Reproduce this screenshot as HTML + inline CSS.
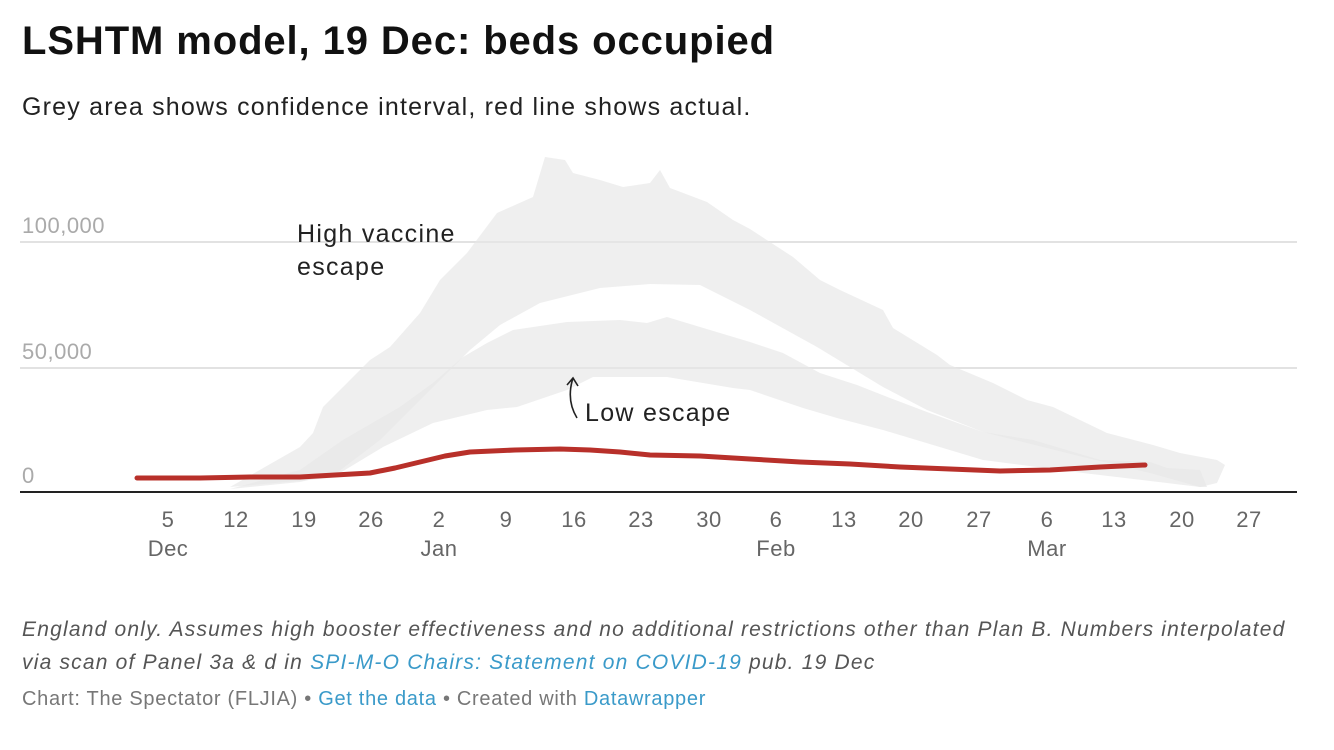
<!DOCTYPE html>
<html><head><meta charset="utf-8"><style>
body{margin:0;background:#fff;font-family:"Liberation Sans",sans-serif;width:1334px;height:750px;overflow:hidden;position:relative}
.t{position:absolute;left:22px;top:19px;font-size:40px;font-weight:bold;color:#111;letter-spacing:0.9px}
.s{position:absolute;left:22px;top:93px;font-size:25px;color:#222;letter-spacing:1.2px}
.n{position:absolute;left:22px;top:613px;font-size:21px;font-style:italic;color:#555;line-height:33px;letter-spacing:1.2px;white-space:nowrap}
.n a{color:#3a9ac9}
.c{position:absolute;left:22px;top:688px;font-size:20px;color:#777;letter-spacing:0.7px}
.c a{color:#3a9ac9}
</style></head><body>
<div class="t">LSHTM model, 19 Dec: beds occupied</div>
<div class="s">Grey area shows confidence interval, red line shows actual.</div>
<svg width="1334" height="750" style="position:absolute;left:0;top:0">
<line x1="20" y1="242" x2="1297" y2="242" stroke="#e2e2e2" stroke-width="2"/>
<line x1="20" y1="368" x2="1297" y2="368" stroke="#e2e2e2" stroke-width="2"/>
<g font-family="Liberation Sans" font-size="22" fill="#aaa" letter-spacing="0.5">
<text x="22" y="233">100,000</text><text x="22" y="359">50,000</text><text x="22" y="483">0</text></g>
<polygon fill="#e6e6e6" fill-opacity="0.65" points="230,487 300,447 313,433 323,407 343,387 370,360 390,347 420,313 440,280 467,253 497,213 533,197 545,157 565,160 573,173 600,180 623,187 650,183 660,170 670,188 707,202 733,220 750,229 793,257 820,280 840,290 883,310 893,328 937,355 950,365 993,383 1027,400 1053,407 1107,433 1153,445 1180,453 1217,460 1225,465 1217,483 1200,487 1150,473 1083,457 983,432 927,410 883,387 817,347 750,310 700,285 650,284 600,288 540,303 500,325 470,350 440,380 420,400 380,440 330,478"/>
<polygon fill="#e6e6e6" fill-opacity="0.65" points="230,489 300,470 343,440 400,407 433,383 463,357 487,343 513,330 567,322 620,320 647,323 667,317 700,327 750,342 783,353 820,373 857,385 890,398 927,412 983,432 1033,440 1100,460 1150,462 1167,468 1200,470 1207,487 1200,487 1083,473 983,460 883,430 837,418 803,408 750,390 733,388 667,377 593,377 567,390 517,407 487,410 433,423 383,447 340,473 300,482"/>
<polyline fill="none" stroke="#b8302a" stroke-width="5" stroke-linejoin="round" stroke-linecap="round" points="137,478 200,478 250,477 300,477 370,473 395,468 420,462 445,456 470,452 515,450 560,449 590,450 620,452 650,455 700,456 750,459 800,462 850,464 900,467 950,469 1000,471 1050,470 1100,467 1145,465"/>
<line x1="20" y1="492" x2="1297" y2="492" stroke="#222" stroke-width="2"/>
<g font-family="Liberation Sans" font-size="22" fill="#666" text-anchor="middle" letter-spacing="0.5">
<text x="168" y="527">5</text><text x="236" y="527">12</text><text x="304" y="527">19</text><text x="371" y="527">26</text><text x="439" y="527">2</text><text x="506" y="527">9</text><text x="574" y="527">16</text><text x="641" y="527">23</text><text x="709" y="527">30</text><text x="776" y="527">6</text><text x="844" y="527">13</text><text x="911" y="527">20</text><text x="979" y="527">27</text><text x="1047" y="527">6</text><text x="1114" y="527">13</text><text x="1182" y="527">20</text><text x="1249" y="527">27</text>
<text x="168" y="556">Dec</text><text x="439" y="556">Jan</text><text x="776" y="556">Feb</text><text x="1047" y="556">Mar</text></g>
<g font-family="Liberation Sans" font-size="25" fill="#222" letter-spacing="1.3">
<text x="297" y="242">High vaccine</text><text x="297" y="275">escape</text><text x="585" y="421">Low escape</text></g>
<path d="M577,418 Q566,400 573,378 M567,385 L573,378 L578,386" fill="none" stroke="#222" stroke-width="1.6"/>
</svg>
<div class="n">England only. Assumes high booster effectiveness and no additional restrictions other than Plan B. Numbers interpolated<br>via scan of Panel 3a &amp; d in <a>SPI-M-O Chairs: Statement on COVID-19</a> pub. 19 Dec</div>
<div class="c">Chart: The Spectator (FLJIA) • <a>Get the data</a> • Created with <a>Datawrapper</a></div>
</body></html>
